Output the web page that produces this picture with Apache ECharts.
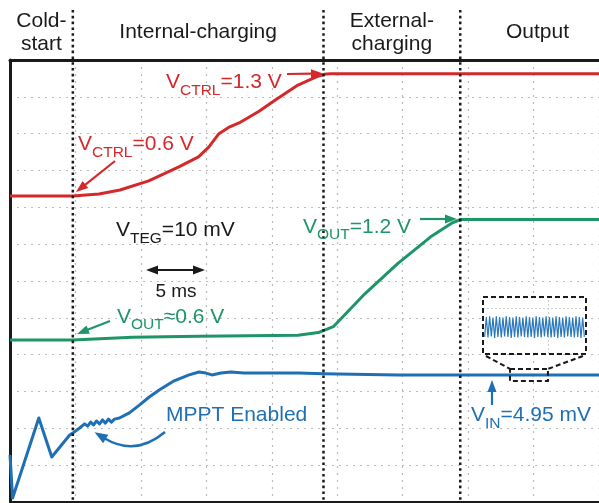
<!DOCTYPE html>
<html>
<head>
<meta charset="utf-8">
<script src="https://cdn.jsdelivr.net/npm/echarts@6/dist/echarts.min.js"></script>
<style>
  html, body { margin: 0; padding: 0; background: #fff; }
  #chart { width: 599px; height: 503px; }
</style>
</head>
<body>
<div id="chart"></div>
<script>
// Operating phases along the time axis (ms)
const phaseNames = ['Cold-\nstart', 'Internal-charging', 'External-\ncharging', 'Output'];
const phaseEdges = [0, 4.8, 23.95, 34.4, 46.2];
const timeMax = 45;      // 9 divisions x 5 ms
const divMax = 12;       // vertical divisions

// Scope traces: [time (ms), vertical position (divisions from bottom)]
const vctrlTrace = [
  [0, 8.31], [4.8, 8.31], [6.8, 8.36], [8.4, 8.47], [10.6, 8.72], [12.9, 9.10],
  [14.4, 9.37], [15.2, 9.64], [15.96, 10.0], [16.7, 10.17], [17.5, 10.29],
  [19.0, 10.60], [20.3, 10.92], [22.0, 11.32], [23.4, 11.54], [24.0, 11.61], [24.5, 11.63], [45, 11.63]
];
const voutTrace = [
  [0, 4.40], [4.8, 4.40], [9.35, 4.47], [14.4, 4.50], [22.0, 4.53], [23.56, 4.60],
  [24.7, 4.76], [27.13, 5.66], [29.64, 6.48], [32.14, 7.20], [33.8, 7.58],
  [34.42, 7.67], [45, 7.67]
];
const vinTrace = [
  [0, 1.28], [0.2, 0.11], [2.2, 2.28], [3.19, 1.22], [4.56, 1.82], [4.79, 1.87],
  [5.32, 2.01], [5.70, 2.12], [5.93, 2.06], [6.16, 2.17], [6.38, 2.09], [6.61, 2.20],
  [6.84, 2.12], [7.07, 2.23], [7.29, 2.14], [7.52, 2.25], [7.75, 2.17], [7.98, 2.25],
  [8.36, 2.28], [9.12, 2.42], [9.88, 2.63], [10.64, 2.85], [11.40, 3.04], [12.54, 3.29],
  [13.68, 3.45], [14.44, 3.53], [14.97, 3.50], [15.43, 3.45], [16.11, 3.50], [16.87, 3.53],
  [17.86, 3.50], [22.04, 3.50], [23.94, 3.48], [29.64, 3.45], [45, 3.45]
];
// Zoomed window on V_IN (ms) and the ripple seen inside it (mV)
const zoomWindow = [38.2, 41.1];
const vinRipple = [
  4.930, 4.965, 4.929, 4.966, 4.931, 4.964, 4.928, 4.966, 4.930, 4.965,
  4.929, 4.964, 4.931, 4.966, 4.930, 4.965, 4.928, 4.964, 4.930, 4.966,
  4.929, 4.965, 4.931, 4.964, 4.930, 4.966, 4.929, 4.965, 4.930, 4.964,
  4.928, 4.966, 4.930, 4.965, 4.929, 4.964, 4.931, 4.966, 4.930, 4.965,
  4.929, 4.964, 4.930, 4.966, 4.928, 4.965, 4.930, 4.964, 4.929, 4.966,
  4.931, 4.965, 4.930, 4.964, 4.929, 4.966, 4.930, 4.965, 4.928, 4.964, 4.930
];

const RED = '#d4292b', GREEN = '#1e9566', BLUE = '#1f6fb4', INK = '#1a1a1a';
const FONT = '"Liberation Sans", Arial, Helvetica, sans-serif';

const chart = echarts.init(document.getElementById('chart'), null, { renderer: 'canvas' });

const dotGrid = { show: true, lineStyle: { color: '#bcbcbc', width: 1.2, type: [2, 5] } };

chart.setOption({
  animation: false,
  backgroundColor: '#fff',
  grid: [
    { left: 10, top: 60, width: 592, height: 442 },
    { left: 483, top: 297, width: 103, height: 57 }
  ],
  xAxis: [
    { type: 'value', gridIndex: 0, min: 0, max: timeMax, interval: 5, position: 'bottom',
      axisLine: { show: true, onZero: false, lineStyle: { color: INK, width: 2 } },
      axisTick: { show: false }, axisLabel: { show: false }, splitLine: dotGrid },
    { type: 'value', gridIndex: 0, min: 0, max: timeMax, position: 'top',
      axisLine: { show: true, onZero: false, lineStyle: { color: INK, width: 3 } },
      axisTick: { show: false }, axisLabel: { show: false }, splitLine: { show: false } },
    { type: 'value', gridIndex: 1, min: -1, max: vinRipple.length,
      axisLine: { show: false }, axisTick: { show: false }, axisLabel: { show: false },
      splitLine: { show: false } }
  ],
  yAxis: [
    { type: 'value', gridIndex: 0, min: 0, max: divMax, interval: 1,
      axisLine: { show: true, onZero: false, lineStyle: { color: INK, width: 3 } },
      axisTick: { show: false }, axisLabel: { show: false }, splitLine: dotGrid },
    { type: 'value', gridIndex: 1, min: 4.90, max: 5.00,
      axisLine: { show: false }, axisTick: { show: false }, axisLabel: { show: false },
      splitLine: { show: false } }
  ],
  series: [
    { name: 'VCTRL', type: 'line', data: vctrlTrace, showSymbol: false,
      lineStyle: { color: RED, width: 3, join: 'round' }, z: 3 },
    { name: 'VOUT', type: 'line', data: voutTrace, showSymbol: false,
      lineStyle: { color: GREEN, width: 3, join: 'round' }, z: 3 },
    { name: 'VIN', type: 'line', data: vinTrace, showSymbol: false,
      lineStyle: { color: BLUE, width: 3, join: 'round' }, z: 3 },
    { name: 'VIN ripple', type: 'line', xAxisIndex: 2, yAxisIndex: 1,
      data: vinRipple.map((v, i) => [i, v]), showSymbol: false,
      lineStyle: { color: '#2a78bd', width: 1.2 }, z: 6,
      markLine: { silent: true, symbol: 'none', label: { show: false },
        lineStyle: { color: '#cfcfcf', type: [2, 2], width: 1 },
        data: [{ yAxis: 4.984 }, { xAxis: 38 }] } }
  ]
});

// ---- annotation helpers ----
const measureCtx = document.createElement('canvas').getContext('2d');
function textWidth(s, size) {
  measureCtx.font = size + 'px ' + FONT;
  return measureCtx.measureText(s).width;
}
function txt(s, x, y, color, size, align) {
  return { type: 'text', z: 20, silent: true,
    style: { text: s, x: x, y: y, fill: color, font: size + 'px ' + FONT,
      textAlign: align || 'left', textVerticalAlign: 'middle', lineHeight: 23 } };
}
// Label made of normal and subscript pieces, starting at x with caps centred on y
function subLabel(x, y, parts, color, subDy) {
  const out = [];
  let cx = x;
  parts.forEach(([s, sub]) => {
    const fs = sub ? 15.5 : 21;
    out.push(txt(s, cx, sub ? y + subDy : y, color, fs));
    cx += textWidth(s, fs);
  });
  return out;
}
function head(tx, ty, ux, uy, color, len, wid) {
  const bx = tx - ux * len, by = ty - uy * len;
  const px = -uy * wid / 2, py = ux * wid / 2;
  return { type: 'polygon', z: 20, silent: true,
    shape: { points: [[tx, ty], [bx + px, by + py], [bx - px, by - py]] },
    style: { fill: color } };
}
function arrow(x1, y1, x2, y2, color, both) {
  const len = 12, wid = 9, lw = 2.2;
  const d = Math.hypot(x2 - x1, y2 - y1), ux = (x2 - x1) / d, uy = (y2 - y1) / d;
  const sx = both ? x1 + ux * (len - 2) : x1, sy = both ? y1 + uy * (len - 2) : y1;
  const els = [
    { type: 'line', z: 20, silent: true,
      shape: { x1: sx, y1: sy, x2: x2 - ux * (len - 2), y2: y2 - uy * (len - 2) },
      style: { stroke: color, lineWidth: lw } },
    head(x2, y2, ux, uy, color, len, wid)
  ];
  if (both) els.push(head(x1, y1, -ux, -uy, color, len, wid));
  return els;
}
function curvedArrow(p0, cp, p1, color) {
  const d = Math.hypot(p1[0] - cp[0], p1[1] - cp[1]);
  const ux = (p1[0] - cp[0]) / d, uy = (p1[1] - cp[1]) / d;
  return [
    { type: 'bezierCurve', z: 20, silent: true,
      shape: { x1: p0[0], y1: p0[1], cpx1: cp[0], cpy1: cp[1], x2: p1[0], y2: p1[1] },
      style: { stroke: color, lineWidth: 2.5, fill: null } },
    head(p1[0] + ux * 11, p1[1] + uy * 11, ux, uy, color, 13, 10)
  ];
}

function drawAnnotations() {
  const px = t => chart.convertToPixel({ xAxisIndex: 0 }, t);
  const py = v => chart.convertToPixel({ yAxisIndex: 0 }, v);
  const g = [];

  // phase separators (dotted) and phase titles
  phaseEdges.slice(1, -1).forEach(t => {
    const x = px(t);
    g.push({ type: 'line', z: 15, silent: true, shape: { x1: x, y1: 10, x2: x, y2: 503 },
      style: { stroke: INK, lineWidth: 2.5, lineDash: [2.6, 3.2] } });
  });
  phaseNames.forEach((name, i) => {
    const x = (px(phaseEdges[i]) + px(phaseEdges[i + 1])) / 2;
    const y = name.indexOf('\n') >= 0 ? 33 : 32.5;
    g.push(txt(name, x, y, INK, 21, 'center'));
  });

  // V_CTRL labels
  g.push(...subLabel(166, 82.5, [['V', 0], ['CTRL', 1], ['=1.3 V', 0]], RED, 8.5));
  g.push(...arrow(287, 74, 323, 73.5, RED));
  g.push(...subLabel(78, 144.5, [['V', 0], ['CTRL', 1], ['=0.6 V', 0]], RED, 8));
  g.push(...arrow(115, 161, 76, 192, RED));

  // TEG voltage and time scale
  g.push(...subLabel(116, 230.5, [['V', 0], ['TEG', 1], ['=10 mV', 0]], INK, 8));
  g.push(...arrow(146, 270, 205, 270, INK, true));
  g.push(txt('5 ms', 176, 291.5, INK, 19, 'center'));

  // V_OUT labels
  g.push(...subLabel(117, 317.5, [['V', 0], ['OUT', 1], ['\u22480.6 V', 0]], GREEN, 7));
  g.push(...arrow(110, 321, 77, 334, GREEN));
  g.push(...subLabel(303, 227, [['V', 0], ['OUT', 1], ['=1.2 V', 0]], GREEN, 8));
  g.push(...arrow(420, 219, 457, 219, GREEN));

  // MPPT note and input voltage
  g.push(txt('MPPT Enabled', 166, 415, BLUE, 21));
  g.push(...curvedArrow([165, 432], [135.5, 457], [104, 438], BLUE));
  g.push(...subLabel(471, 415.5, [['V', 0], ['IN', 1], ['=4.95 mV', 0]], BLUE, 8.5));
  g.push(...arrow(492, 405, 492, 380, BLUE));

  // zoom callout: window on V_IN and the enlarged box
  const zx0 = px(zoomWindow[0]), zx1 = px(zoomWindow[1]);
  const yMid = py(vinTrace[vinTrace.length - 1][1]);
  const dash = { stroke: INK, lineWidth: 2, lineDash: [5, 3], fill: null };
  g.push({ type: 'rect', z: 4, silent: true, shape: { x: 483, y: 297, width: 103, height: 57 },
    style: { fill: '#fff' } });
  g.push({ type: 'rect', z: 20, silent: true, shape: { x: 483, y: 297, width: 103, height: 57 },
    style: dash });
  g.push({ type: 'rect', z: 20, silent: true,
    shape: { x: zx0, y: yMid - 6, width: zx1 - zx0, height: 12 }, style: dash });
  g.push({ type: 'line', z: 20, silent: true,
    shape: { x1: 486, y1: 356, x2: zx0, y2: yMid - 6 }, style: dash });
  g.push({ type: 'line', z: 20, silent: true,
    shape: { x1: 583, y1: 356, x2: zx1, y2: yMid - 6 }, style: dash });

  chart.setOption({ graphic: { elements: g } });
}
drawAnnotations();
</script>
</body>
</html>
